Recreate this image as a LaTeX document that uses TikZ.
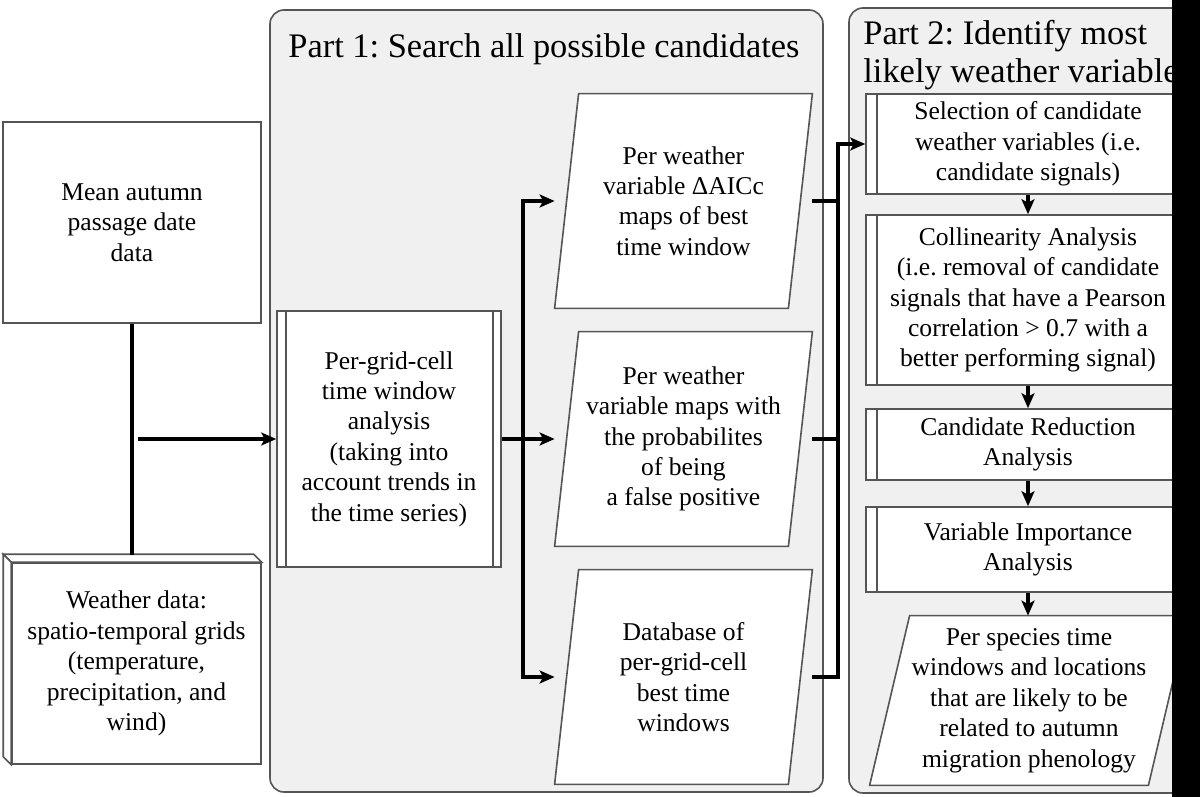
\documentclass[tikz,border=0pt]{standalone}
\usepackage{fontspec}
\setmainfont{Liberation Serif}
\usetikzlibrary{arrows.meta,calc}
\definecolor{bord}{RGB}{85,85,85}
\definecolor{panel}{RGB}{240,240,240}
\pgfdeclarelayer{back}
\pgfdeclarelayer{mid}
\pgfsetlayers{back,mid,main}
\frenchspacing
\begin{document}
\frenchspacing
\begin{tikzpicture}[x=0.5pt,y=-0.5pt,
  txt/.style={font=\fontsize{12.8}{15.2}\selectfont, align=center, inner sep=0pt},
  box/.style={draw=bord, line width=0.8pt, fill=white, txt},
  databox/.style={txt},
  panelbox/.style={draw=bord, line width=0.8pt, fill=panel, rounded corners=7pt, inner sep=0pt},
  shapeline/.style={draw=bord, line width=0.8pt},
  conn/.style={line width=1.6pt, black},
  arr/.style={conn, -{Stealth[length=7.5pt,width=6.5pt,inset=1.8pt]}},
  titletxt/.style={font=\fontsize{17.2}{19.5}\selectfont, inner sep=0pt}
]
\useasboundingbox (0,0) rectangle (1200,797);
\begin{pgfonlayer}{back}
\fill[white] (0,0) rectangle (1200,797);
\node[panelbox, minimum width=276.5pt, minimum height=391pt] (part1) at (546.5,401) {};
\node[panelbox, minimum width=179pt, minimum height=392.5pt] (part2) at (1028,400.5) {};
\end{pgfonlayer}

% titles
\node[titletxt, anchor=base] (t1) at (544,58) {Part 1: Search all possible candidates};
\node[titletxt, anchor=base west] (t2a) at (863,45) {Part 2: Identify most};
\node[titletxt, anchor=base west] (t2b) at (863,83) {likely weather variables};

% left inputs
\node[box, minimum width=129pt, minimum height=100.5pt] (mean) at (132,222.5) {Mean autumn\\passage date\\data};
\node[box, minimum width=124.5pt, minimum height=100.5pt] (weather) at (136.5,663.5) {Weather data:\\spatio-temporal grids\\(temperature,\\precipitation, and\\wind)};
\draw[shapeline, fill=white] (weather.north west) -- ++(-8,-8) -- ($(weather.north east)+(-8,-8)$) -- (weather.north east) -- cycle;
\draw[shapeline, fill=white] (weather.north west) -- ++(-8,-8) -- ($(weather.south west)+(-8,-8)$) -- (weather.south west) -- cycle;
\coordinate (wtop) at (132,555);

% part 1
\node[box, minimum width=112pt, minimum height=128pt] (grid) at (389,439) {Per-grid-cell\\time window\\analysis\\(taking into\\account trends in\\the time series)};
\draw[shapeline] ([xshift=5pt]grid.north west) -- ([xshift=5pt]grid.south west);
\draw[shapeline] ([xshift=-4.5pt]grid.north east) -- ([xshift=-4.5pt]grid.south east);

\node[databox, minimum width=128.5pt, minimum height=107pt] (p1) at (683.5,201) {Per weather\\variable ΔAICc\\maps of best\\time window};
\node[databox, minimum width=128.5pt, minimum height=107pt] (p2) at (683.5,439) {Per weather\\variable maps with\\the probabilites\\of being\\a false positive};
\node[databox, minimum width=128.5pt, minimum height=107pt] (p3) at (683.5,677) {Database of\\per-grid-cell\\best time\\windows};
\begin{pgfonlayer}{mid}
\foreach \n in {p1,p2,p3}{
  \draw[shapeline, fill=white] (\n.south west) -- ($(\n.north west)+(24,0)$) -- (\n.north east) -- ($(\n.south east)-(24,0)$) -- cycle;
}
\end{pgfonlayer}

% part 2
\node[box, minimum width=162pt, minimum height=50pt] (sel) at (1028,144) {Selection of candidate\\weather variables (i.e.\\candidate signals)};
\node[box, minimum width=162pt, minimum height=85pt] (col) at (1028,300) {Collinearity Analysis\\(i.e. removal of candidate\\signals that have a Pearson\\correlation > 0.7 with a\\better performing signal)};
\node[box, minimum width=162pt, minimum height=35.5pt] (red) at (1028,444.5) {Candidate Reduction\\Analysis};
\node[box, minimum width=162pt, minimum height=42.5pt] (imp) at (1028,549.5) {Variable Importance\\Analysis};
\foreach \n in {sel,col,red,imp}{
  \draw[shapeline] ([xshift=6pt]\n.north west) -- ([xshift=6pt]\n.south west);
  \draw[shapeline] ([xshift=-6pt]\n.north east) -- ([xshift=-6pt]\n.south east);
}
\node[databox, minimum width=159pt, minimum height=84.5pt] (out) at (1029,700.5) {Per species time\\windows and locations\\that are likely to be\\related to autumn\\migration phenology};
\begin{pgfonlayer}{mid}
\draw[shapeline, fill=white] (out.south west) -- ($(out.north west)+(40,0)$) -- (out.north east) -- ($(out.south east)-(40,0)$) -- cycle;
\end{pgfonlayer}

% connectors
\draw[conn] (mean.south) -- (wtop);
\coordinate (a0) at (138,439);
\draw[arr] (a0) -- (grid.west);
\coordinate (busL) at (523,439);
\draw[arr] (grid.east) -- (p2.west);
\draw[arr] (busL) |- (p1.west);
\draw[arr] (busL) |- (p3.west);
\coordinate (busR) at (838,144);
\draw[arr] (p3.east) -| (busR) -- (sel.west);
\draw[conn] (p1.east) -- (p1.east -| busR);
\draw[conn] (p2.east) -- (p2.east -| busR);
\draw[arr] (sel.south) -- (col.north);
\draw[arr] (col.south) -- (red.north);
\draw[arr] (red.south) -- (imp.north);
\draw[arr] (imp.south) -- (imp.south |- out.north);

% black strip at the right edge
\fill[black] (1172,-2) rectangle (1202,799);
\end{tikzpicture}
\end{document}
